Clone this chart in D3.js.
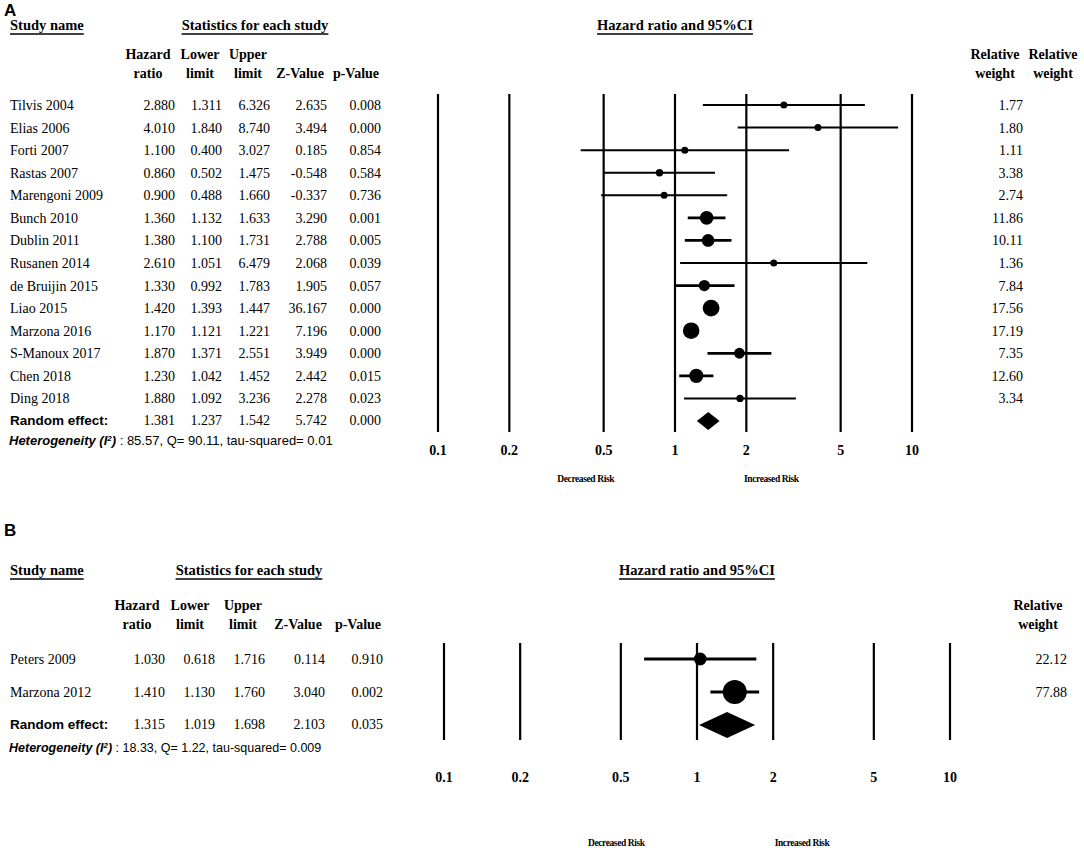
<!DOCTYPE html>
<html>
<head>
  <meta charset="utf-8">
  <script src="https://d3js.org/d3.v7.min.js"></script>
  <style>
    body { margin: 0; background: #fff; }
    text { font-family: "Liberation Serif", "Times New Roman", serif; fill: #000; }
    .sans { font-family: "Liberation Sans", Arial, sans-serif; }
  </style>
</head>
<body>
<script>
  "use strict";

  // ---- panel A data ----
  var studiesA = ["Tilvis 2004", "Elias 2006", "Forti 2007", "Rastas 2007", "Marengoni 2009",
                  "Bunch 2010", "Dublin 2011", "Rusanen 2014", "de Bruijin 2015", "Liao 2015",
                  "Marzona 2016", "S-Manoux 2017", "Chen 2018", "Ding 2018"];
  var hrA     = [2.880, 4.010, 1.100, 0.860, 0.900, 1.360, 1.380, 2.610, 1.330, 1.420, 1.170, 1.870, 1.230, 1.880];
  var lowerA  = [1.311, 1.840, 0.400, 0.502, 0.488, 1.132, 1.100, 1.051, 0.992, 1.393, 1.121, 1.371, 1.042, 1.092];
  var upperA  = [6.326, 8.740, 3.027, 1.475, 1.660, 1.633, 1.731, 6.479, 1.783, 1.447, 1.221, 2.551, 1.452, 3.236];
  var zA      = [2.635, 3.494, 0.185, -0.548, -0.337, 3.290, 2.788, 2.068, 1.905, 36.167, 7.196, 3.949, 2.442, 2.278];
  var pA      = [0.008, 0.000, 0.854, 0.584, 0.736, 0.001, 0.005, 0.039, 0.057, 0.000, 0.000, 0.000, 0.015, 0.023];
  var weightA = [1.77, 1.80, 1.11, 3.38, 2.74, 11.86, 10.11, 1.36, 7.84, 17.56, 17.19, 7.35, 12.60, 3.34];
  var pooledA = {hr: 1.381, lower: 1.237, upper: 1.542, z: 5.742, p: 0.000};
  var hetA = ": 85.57, Q= 90.11, tau-squared= 0.01";

  // ---- panel B data ----
  var studiesB = ["Peters 2009", "Marzona 2012"];
  var hrB     = [1.030, 1.410];
  var lowerB  = [0.618, 1.130];
  var upperB  = [1.716, 1.760];
  var zB      = [0.114, 3.040];
  var pB      = [0.910, 0.002];
  var weightB = [22.12, 77.88];
  var pooledB = {hr: 1.315, lower: 1.019, upper: 1.698, z: 2.103, p: 0.035};
  var hetB = ": 18.33, Q= 1.22, tau-squared= 0.009";

  var tickVals = [0.1, 0.2, 0.5, 1, 2, 5, 10];
  var tickLabels = ["0.1", "0.2", "0.5", "1", "2", "5", "10"];

  var f3 = function(v) { return v.toFixed(3); };
  var f2 = function(v) { return v.toFixed(2); };

  var svg = d3.select("body").append("svg")
      .attr("width", 1084).attr("height", 852);

  function underlined(g, txt, x, y, anchor, size) {
    var t = g.append("text").attr("x", x).attr("y", y)
        .attr("text-anchor", anchor).style("font-weight", "bold")
        .style("font-size", size + "px").text(txt);
    var w = t.node().getComputedTextLength();
    var x0 = anchor === "middle" ? x - w / 2 : x;
    g.append("line").attr("x1", x0).attr("x2", x0 + w)
        .attr("y1", y + 4).attr("y2", y + 4)
        .attr("stroke", "#000").attr("stroke-width", 1.3);
  }

  function panel(cfg) {
    var g = svg.append("g");
    var n = cfg.studies.length;

    g.append("text").attr("class", "sans").attr("x", 4).attr("y", cfg.letterY)
        .style("font-weight", "bold").style("font-size", "17px").text(cfg.letter);

    underlined(g, "Study name", 10, cfg.headY, "start", 14.5);
    underlined(g, "Statistics for each study", cfg.statsX, cfg.headY, "middle", 14.5);
    underlined(g, "Hazard ratio and 95%CI", cfg.plotTitleX, cfg.headY, "middle", 14.5);

    // column headers
    var hdr = [["Hazard", "ratio"], ["Lower", "limit"], ["Upper", "limit"], ["", "Z-Value"], ["", "p-Value"]];
    hdr.forEach(function(h, i) {
      [0, 1].forEach(function(k) {
        if (!h[k]) return;
        g.append("text").attr("x", cfg.hdrX[i]).attr("y", cfg.colY + k * 19)
            .attr("text-anchor", "middle").style("font-weight", "bold")
            .style("font-size", "14px").text(h[k]);
      });
    });
    cfg.rwX.forEach(function(x) {
      g.append("text").attr("x", x).attr("y", cfg.colY).attr("text-anchor", "middle")
          .style("font-weight", "bold").style("font-size", "14px").text("Relative");
      g.append("text").attr("x", x).attr("y", cfg.colY + 19).attr("text-anchor", "middle")
          .style("font-weight", "bold").style("font-size", "14px").text("weight");
    });

    var y = d3.scalePoint().domain(d3.range(n + 1)).range([cfg.rowY0, cfg.rowY1]);
    var x = d3.scaleLog().domain([0.1, 10]).range([cfg.x0, cfg.x1]);
    var r = function(w) { return Math.max(3.5, cfg.rk * Math.sqrt(w)); };

    // table rows
    var rows = cfg.studies.map(function(s, i) {
      return {name: s, hr: cfg.hr[i], lo: cfg.lower[i], up: cfg.upper[i], z: cfg.z[i], p: cfg.p[i], w: cfg.weight[i], i: i};
    });
    rows.forEach(function(d) {
      var yy = y(d.i) + 5;
      g.append("text").attr("x", 10).attr("y", yy).style("font-size", "14px").text(d.name);
      [d.hr, d.lo, d.up, d.z, d.p].forEach(function(v, j) {
        g.append("text").attr("x", cfg.colX[j]).attr("y", yy).attr("text-anchor", "end")
            .style("font-size", "14px").text(f3(v));
      });
      g.append("text").attr("x", cfg.rwRight).attr("y", yy).attr("text-anchor", "end")
          .style("font-size", "14px").text(f2(d.w));
    });
    var py = y(n) + 4;
    g.append("text").attr("class", "sans").attr("x", 10).attr("y", py)
        .style("font-size", "13.5px").style("font-weight", "bold").text("Random effect:");
    var pv = cfg.pooled;
    [pv.hr, pv.lower, pv.upper, pv.z, pv.p].forEach(function(v, j) {
      g.append("text").attr("x", cfg.colX[j]).attr("y", py).attr("text-anchor", "end")
          .style("font-size", "14px").text(f3(v));
    });
    var het = g.append("text").attr("class", "sans").attr("x", 9).attr("y", cfg.hetY)
        .style("font-size", cfg.hetSize + "px");
    het.append("tspan").style("font-style", "italic").style("font-weight", "bold").text("Heterogeneity (I");
    het.append("tspan").style("font-style", "italic").style("font-weight", "bold")
        .attr("baseline-shift", "super").style("font-size", "8px").text("2");
    het.append("tspan").style("font-style", "italic").style("font-weight", "bold").text(")");
    het.append("tspan").text(" " + cfg.het);

    // vertical reference lines
    g.selectAll(".vl").data(tickVals).join("line")
        .attr("x1", function(d) { return x(d); }).attr("x2", function(d) { return x(d); })
        .attr("y1", cfg.lineTop).attr("y2", cfg.lineBot)
        .attr("stroke", "#000").attr("stroke-width", 2.2);

    g.selectAll(".tl").data(tickVals).join("text")
        .attr("x", function(d) { return x(d); }).attr("y", cfg.tickY)
        .attr("text-anchor", "middle").style("font-weight", "bold").style("font-size", "14px")
        .text(function(d, i) { return tickLabels[i]; });

    g.append("text").attr("x", x(cfg.decX)).attr("y", cfg.riskY).attr("text-anchor", "middle")
        .style("font-size", "9.5px").style("font-weight", "bold").style("letter-spacing", "-0.4px").text("Decreased Risk");
    g.append("text").attr("x", x(cfg.incX)).attr("y", cfg.riskY).attr("text-anchor", "middle")
        .style("font-size", "9.5px").style("font-weight", "bold").style("letter-spacing", "-0.4px").text("Increased Risk");

    // CI lines and markers
    g.selectAll(".ci").data(rows).join("line")
        .attr("x1", function(d) { return x(d.lo); }).attr("x2", function(d) { return x(d.up); })
        .attr("y1", function(d) { return y(d.i); }).attr("y2", function(d) { return y(d.i); })
        .attr("stroke", "#000").attr("stroke-width", function(d) { return d.w > 5 ? 2.8 : 2; });
    g.selectAll(".pt").data(rows).join("circle")
        .attr("cx", function(d) { return x(d.hr); }).attr("cy", function(d) { return y(d.i); })
        .attr("r", function(d) { return r(d.w); }).attr("fill", "#000");

    var dy = y(n), hh = cfg.diamondH;
    g.append("path").attr("fill", "#000")
        .attr("d", "M" + x(pv.lower) + "," + dy + "L" + x(pv.hr) + "," + (dy - hh) +
                   "L" + x(pv.upper) + "," + dy + "L" + x(pv.hr) + "," + (dy + hh) + "Z");
  }

  panel({
    letter: "A", letterY: 16, headY: 30, statsX: 255, plotTitleX: 675,
    colY: 59, hdrX: [148, 200, 248, 300, 356], colX: [175, 222, 270, 327, 381],
    rwX: [995, 1053], rwRight: 1023,
    studies: studiesA, hr: hrA, lower: lowerA, upper: upperA, z: zA, p: pA, weight: weightA,
    pooled: pooledA, het: hetA, hetY: 445, hetSize: 13,
    rowY0: 105, rowY1: 421, x0: 438, x1: 912, rk: 2.0,
    lineTop: 94, lineBot: 432, tickY: 455, riskY: 482, decX: 0.42, incX: 2.55, diamondH: 9
  });

  panel({
    letter: "B", letterY: 536, headY: 575, statsX: 249, plotTitleX: 697,
    colY: 610, hdrX: [137, 190, 243, 298, 358], colX: [165, 215, 265, 325, 383],
    rwX: [1038], rwRight: 1067,
    studies: studiesB, hr: hrB, lower: lowerB, upper: upperB, z: zB, p: pB, weight: weightB,
    pooled: pooledB, het: hetB, hetY: 752, hetSize: 12.5,
    rowY0: 659, rowY1: 725, x0: 444, x1: 950, rk: 1.36,
    lineTop: 643, lineBot: 740, tickY: 782, riskY: 846, decX: 0.48, incX: 2.6, diamondH: 13
  });
</script>
</body>
</html>
